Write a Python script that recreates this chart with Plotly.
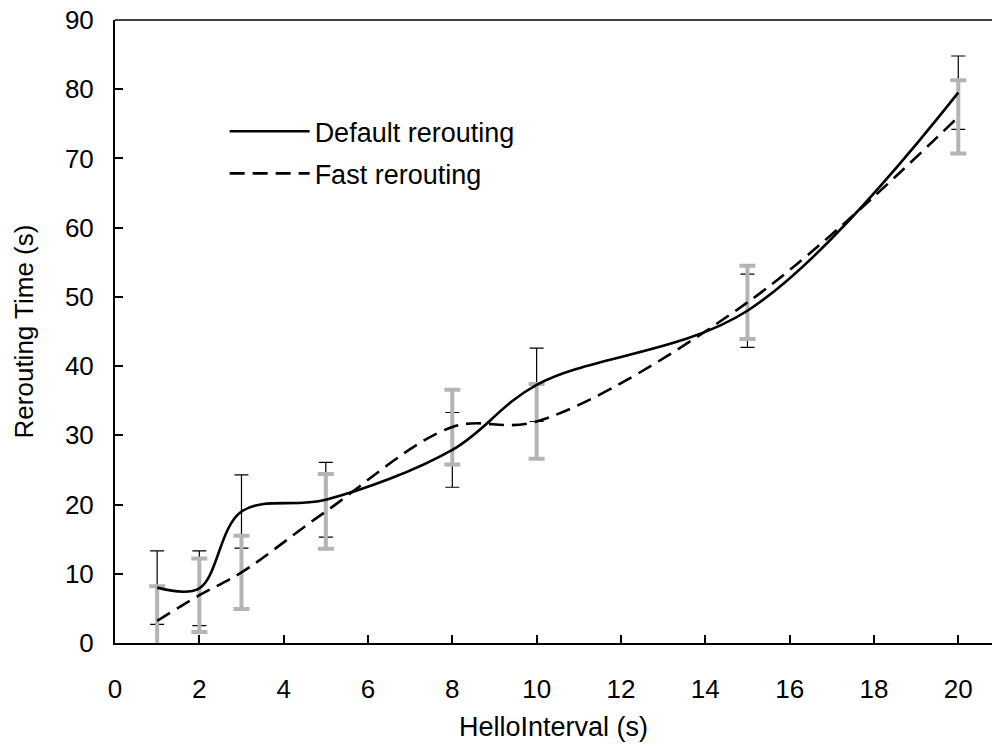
import plotly.graph_objects as go

hello_interval = [1, 2, 3, 5, 8, 10, 15, 20]
default_rerouting = [8.0, 7.9, 19.0, 20.7, 27.9, 37.3, 48.0, 79.5]
default_err = [5.3, 5.4, 5.3, 5.4, 5.4, 5.3, 5.3, 5.3]
fast_rerouting = [3.2, 6.9, 10.2, 19.0, 31.2, 32.0, 49.2, 76.0]
fast_err = [5.0, 5.3, 5.3, 5.4, 5.4, 5.4, 5.3, 5.3]

x_ticks = list(range(0, 21, 2))
y_ticks = list(range(0, 91, 10))

FONT = "Liberation Sans, Arial, sans-serif"

fig = go.Figure()

# error bars (default: thin black; fast: thick grey)
fig.add_trace(go.Scatter(
    x=hello_interval, y=default_rerouting, mode="markers",
    marker=dict(size=1, color="rgba(0,0,0,0)"),
    error_y=dict(type="data", array=default_err, visible=True,
                 color="black", thickness=1.2, width=7),
    showlegend=False, hoverinfo="skip"))
fig.add_trace(go.Scatter(
    x=hello_interval, y=fast_rerouting, mode="markers",
    marker=dict(size=1, color="rgba(0,0,0,0)"),
    error_y=dict(type="data", array=fast_err, visible=True,
                 color="#b4b4b4", thickness=4, width=8),
    showlegend=False, hoverinfo="skip"))

# curves
fig.add_trace(go.Scatter(
    x=hello_interval, y=default_rerouting, mode="lines",
    line=dict(color="black", width=2.6, shape="spline", smoothing=1.0),
    name="Default rerouting", legendgroup="d"))
fig.add_trace(go.Scatter(
    x=hello_interval, y=fast_rerouting, mode="lines",
    line=dict(color="black", width=2.6, shape="spline", smoothing=1.0,
              dash="15px,8px"),
    name="Fast rerouting", legendgroup="f"))

axis_common = dict(
    showline=True, linecolor="black", linewidth=2,
    ticks="inside", ticklen=8, tickwidth=2, tickcolor="black",
    showgrid=False, zeroline=False, automargin=False,
    tickfont=dict(family=FONT, size=26, color="black"),
)

fig.update_layout(
    width=992, height=747,
    margin=dict(l=115, r=0, t=20, b=104),
    paper_bgcolor="white", plot_bgcolor="white",
    font=dict(family=FONT, size=26, color="black"),
    xaxis=dict(range=[0, 20.8], tickvals=x_ticks, ticklabelstandoff=22,
               title=dict(text="HelloInterval (s)", standoff=14,
                          font=dict(family=FONT, size=27)),
               **axis_common),
    yaxis=dict(range=[0, 90], tickvals=y_ticks, ticklabelstandoff=14,
               title=dict(text="Rerouting Time (s)", standoff=24,
                          font=dict(family=FONT, size=26)),
               **axis_common),
    legend=dict(x=0.125, y=0.86, xanchor="left", yanchor="top",
                bgcolor="rgba(0,0,0,0)", itemwidth=80, tracegroupgap=4,
                font=dict(family=FONT, size=27, color="black")),
    shapes=[dict(type="line", xref="paper", yref="paper", x0=0, x1=1,
                 y0=1, y1=1, line=dict(color="black", width=1.5))],
)

fig.write_html("out.html",
               config={"displayModeBar": False},
               post_script="document.body.style.margin='0';"
                           "document.body.style.overflow='hidden';")
